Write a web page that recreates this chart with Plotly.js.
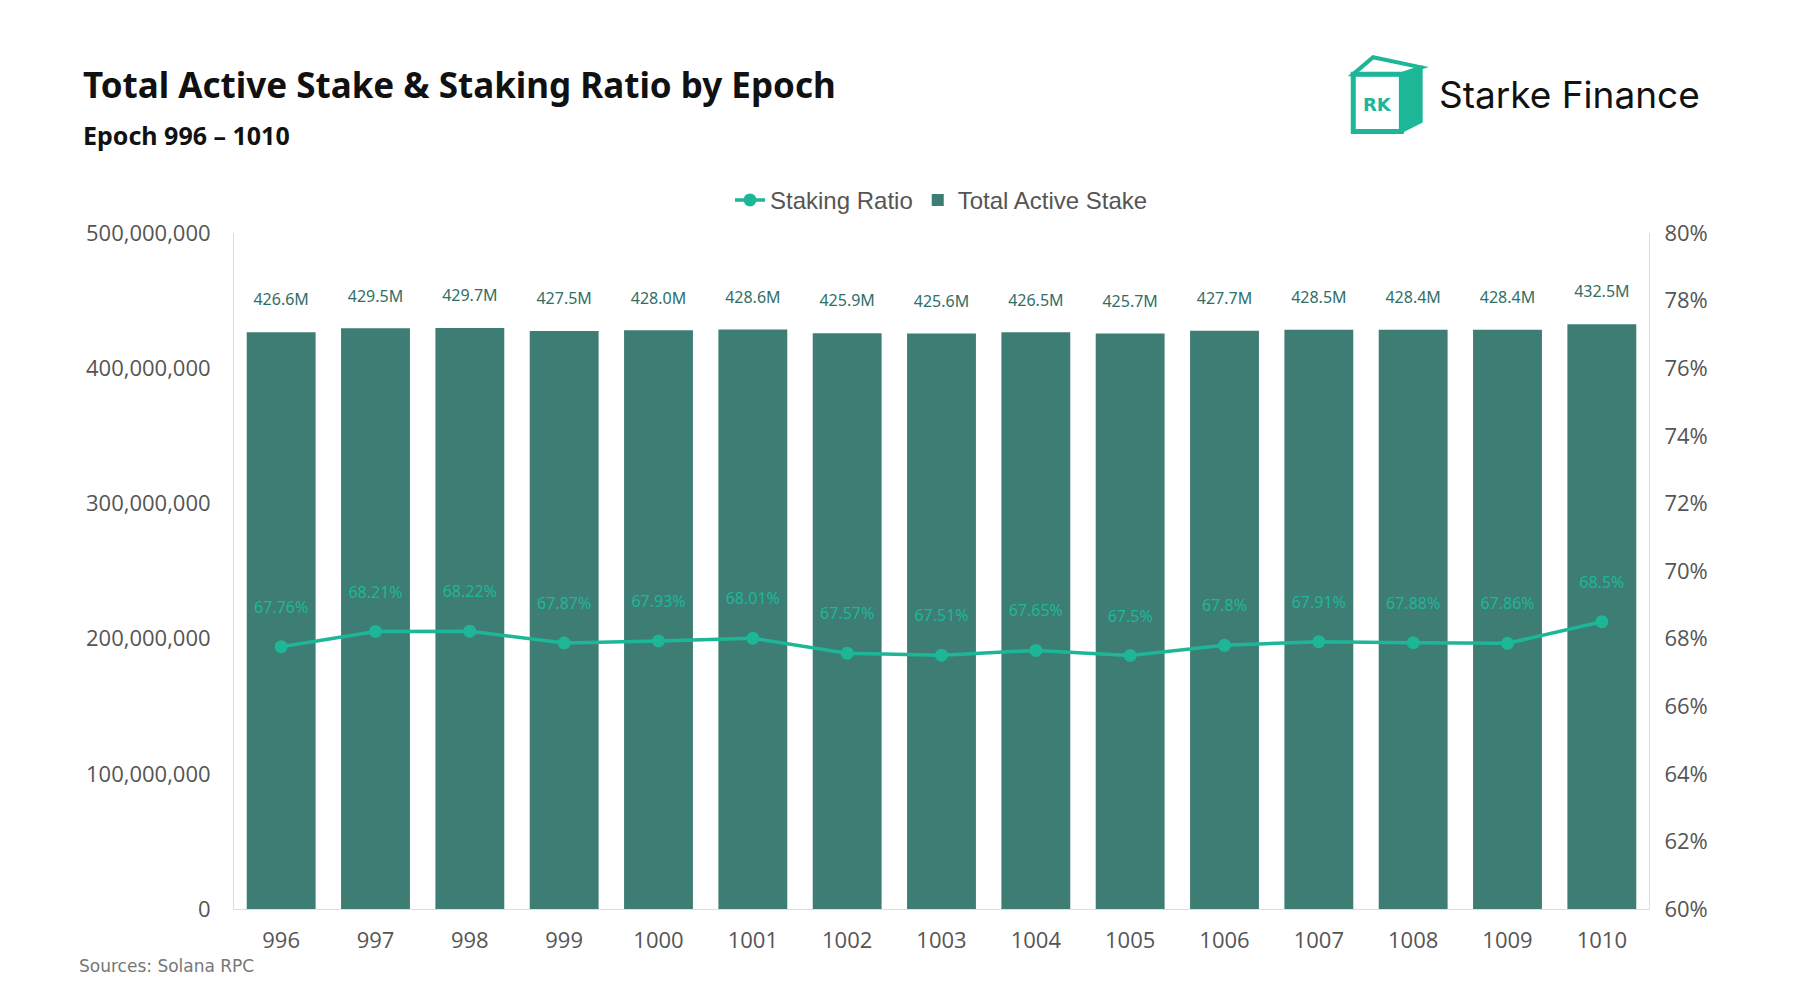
<!DOCTYPE html><html><head><script src="https://cdn.plot.ly/plotly-3.0.1.min.js"></script>
<style>body{margin:0}</style></head><body><div id="c" style="width:1800px;height:1000px"></div><script>
const epochs=['996','997','998','999','1000','1001','1002','1003','1004','1005','1006','1007','1008','1009','1010'];
const stakeM=[426.6,429.5,429.7,427.5,428.0,428.6,425.9,425.6,426.5,425.7,427.7,428.5,428.4,428.4,432.5];
const ratio=[67.76,68.21,68.22,67.87,67.93,68.01,67.57,67.51,67.65,67.5,67.8,67.91,67.88,67.86,68.5];
const stakeLabels=['426.6M','429.5M','429.7M','427.5M','428.0M','428.6M','425.9M','425.6M','426.5M','425.7M','427.7M','428.5M','428.4M','428.4M','432.5M'];
const ratioLabels=['67.76%','68.21%','68.22%','67.87%','67.93%','68.01%','67.57%','67.51%','67.65%','67.5%','67.8%','67.91%','67.88%','67.86%','68.5%'];
const teal='#1db798', dark='#3d7d74';
const tf={family:'Open Sans',size:22,color:'#555'};
const traces=[
{type:'scatter',mode:'lines+markers+text',name:'Staking Ratio',x:epochs,y:ratio.map(v=>v/100),yaxis:'y2',
 line:{color:teal,width:3.5},marker:{color:teal,size:13},text:ratioLabels,texttemplate:'%{text}<br><span style="font-size:14px"> </span>',textposition:'top center',
 textfont:{family:'Noto Sans',size:16,color:teal},cliponaxis:false,hoverinfo:'skip'},
{type:'bar',name:'Total Active Stake',x:epochs,y:stakeM.map(v=>v*1e6),marker:{color:dark},
 text:stakeLabels,texttemplate:'%{text}<br><span style="font-size:10px"> </span>',textposition:'outside',textfont:{family:'Noto Sans',size:16,color:'#2f6f66'},cliponaxis:false}
];
const layout={width:1800,height:1000,paper_bgcolor:'#fff',plot_bgcolor:'#fff',
 margin:{l:234,r:151,t:233,b:91},bargap:0.27,showlegend:true,
 legend:{orientation:'h',x:0.5,xanchor:'center',y:1.015,yanchor:'bottom',traceorder:'normal',font:{family:'Liberation Sans',size:24,color:'#555'}},
 xaxis:{type:'category',range:[-0.5,14.5],tickfont:tf,showline:true,linecolor:'#ddd',ticks:'outside',tickcolor:'rgba(0,0,0,0)',ticklen:12},
 yaxis:{range:[0,5e8],dtick:1e8,tickformat:',',showgrid:false,showline:true,linecolor:'#ddd',zeroline:false,ticks:'outside',tickcolor:'rgba(0,0,0,0)',ticklen:18,tickfont:tf,automargin:false},
 yaxis2:{overlaying:'y',side:'right',range:[0.6,0.8],dtick:0.02,tickformat:'.0%',showgrid:false,showline:true,linecolor:'#ddd',zeroline:false,ticks:'outside',tickcolor:'rgba(0,0,0,0)',ticklen:10,tickfont:tf,automargin:false},
 annotations:[
 {xref:'paper',yref:'paper',x:-0.108,y:1.22,xanchor:'left',yanchor:'middle',showarrow:false,text:'<b>Total Active Stake & Staking Ratio by Epoch</b>',font:{family:'Noto Sans',size:35,color:'#111'}},
 {xref:'paper',yref:'paper',x:-0.108,y:1.145,xanchor:'left',yanchor:'middle',showarrow:false,text:'<b>Epoch 996 – 1010</b>',font:{family:'Noto Sans',size:25,color:'#111'}},
 {xref:'paper',yref:'paper',x:-0.111,y:-0.085,xanchor:'left',yanchor:'middle',showarrow:false,text:'Sources: Solana RPC',font:{family:'DejaVu Sans',size:17,color:'#777'}},
 {xref:'paper',yref:'paper',x:0.85,y:1.205,xanchor:'left',yanchor:'middle',showarrow:false,text:'Starke Finance',font:{family:'Inter',size:37,color:'#111'}},
 {xref:'paper',yref:'paper',x:0.808,y:1.19,xanchor:'center',yanchor:'middle',showarrow:false,text:'<b>RK</b>',font:{family:'DejaVu Sans',size:18,color:teal}}
 ],
 shapes:[
 {type:'rect',xref:'paper',yref:'paper',x0:0.791,x1:0.825,y0:1.15,y1:1.235,fillcolor:'rgba(0,0,0,0)',line:{color:teal,width:5}},
 {type:'path',xref:'paper',yref:'paper',path:'M 0.791 1.235 L 0.805 1.26 L 0.839 1.245 L 0.825 1.235 Z',fillcolor:'rgba(0,0,0,0)',line:{color:teal,width:4}},
 {type:'path',xref:'paper',yref:'paper',path:'M 0.825 1.235 L 0.839 1.245 L 0.839 1.165 L 0.825 1.15 Z',fillcolor:teal,line:{color:teal,width:3}}
 ]
};
Plotly.newPlot('c',traces,layout,{displayModeBar:false});
</script></body></html>
